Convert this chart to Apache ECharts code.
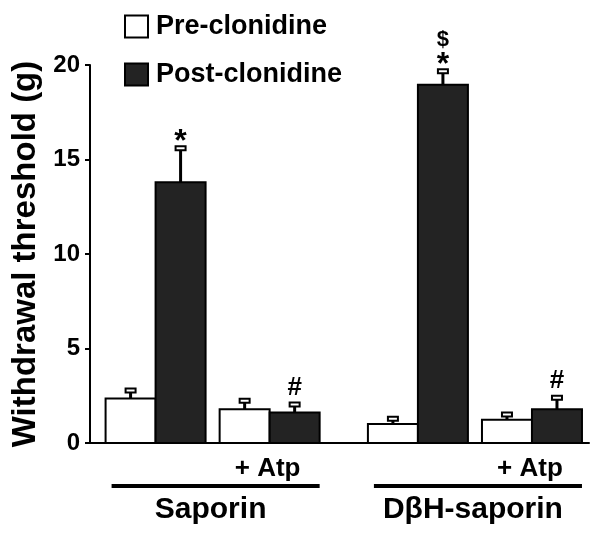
<!DOCTYPE html>
<html>
<head>
<meta charset="utf-8">
<title>Withdrawal threshold</title>
<script src="https://cdn.jsdelivr.net/npm/echarts@6/dist/echarts.min.js"></script>
<style>html,body{margin:0;padding:0;background:#fff}</style>
</head>
<body>
<div id="main" style="width:602px;height:539px"></div>
<script>
// group centres on a hidden value axis (the gap between treatments is wider)
var groupPos = [0, 1, 2.3, 3.3];
var subLabels = ['', '+ Atp', '', '+ Atp'];
var treatments = ['Saporin', 'DβH-saporin'];
var treatmentGroups = [[0, 1], [2, 3]];
var preMean = [2.35, 1.79, 1.01, 1.23];
var preSem = [0.43, 0.44, 0.27, 0.28];
var postMean = [13.8, 1.61, 18.95, 1.79];
var postSem = [1.8, 0.43, 0.72, 0.6];
var postMarks = ['*', '#', '*', '#'];
var postMarks2 = ['', '', '$', ''];
var yTicks = [0, 5, 10, 15, 20];

var FONT = '"Liberation Sans", Arial, sans-serif';
var BAR = 50;
var markStyle = {
    '*': { size: 32, dy: 6 },
    '#': { size: 26, dy: 17 },
    '$': { size: 22, dy: 31 }
};

function rows(mean, sem) {
    return groupPos.map(function (p, i) { return [p, mean[i], sem[i], i]; });
}

function barRenderer(side, fill) {
    return function (params, api) {
        var x = api.value(0), m = api.value(1), e = api.value(2), idx = api.value(3);
        var base = api.coord([x, 0]);
        var top = api.coord([x, m]);
        var cap = api.coord([x, m + e]);
        var left = side < 0 ? base[0] - BAR : base[0];
        var cx = left + BAR / 2;
        var kids = [
            { type: 'line', shape: { x1: cx, y1: top[1], x2: cx, y2: cap[1] },
              style: { stroke: '#000', lineWidth: 3 } },
            { type: 'rect', shape: { x: cx - 5, y: cap[1] - 2, width: 10, height: 4 },
              style: { fill: '#fff', stroke: '#000', lineWidth: 2 } },
            { type: 'rect', shape: { x: left, y: top[1], width: BAR, height: base[1] - top[1] },
              style: { fill: fill, stroke: '#000', lineWidth: 2 } }
        ];
        if (side > 0) {
            [postMarks[idx], postMarks2[idx]].forEach(function (t) {
                if (!t) return;
                var ms = markStyle[t];
                kids.push({ type: 'text', style: {
                    text: t, x: cx, y: cap[1] - ms.dy, align: 'center', verticalAlign: 'middle',
                    font: 'bold ' + ms.size + 'px ' + FONT, fill: '#000' } });
            });
        }
        return { type: 'group', children: kids };
    };
}

var labelRows = groupPos.map(function (p, i) { return [p, 0, i]; });
var treatRows = treatmentGroups.map(function (g, i) { return [groupPos[g[0]], groupPos[g[1]], i]; });

var option = {
    animation: false,
    grid: { left: 90, right: 13, top: 65, bottom: 96 },
    legend: {
        orient: 'vertical', left: 124, top: 13, padding: 0,
        itemWidth: 23, itemHeight: 22, itemGap: 21,
        icon: 'rect',
        textStyle: { fontSize: 27, fontWeight: 'bold', color: '#000', fontFamily: FONT, padding: [0, 0, 0, 3] },
        data: ['Pre-clonidine', 'Post-clonidine']
    },
    xAxis: {
        type: 'value', min: -0.575, max: 3.8,
        axisLine: { show: true, onZero: false, lineStyle: { color: '#000', width: 2 } },
        axisTick: { show: false }, axisLabel: { show: false }, splitLine: { show: false }
    },
    yAxis: {
        type: 'value', min: yTicks[0], max: yTicks[yTicks.length - 1], interval: 5,
        name: 'Withdrawal threshold (g)', nameLocation: 'middle', nameRotate: 90, nameGap: 45,
        nameTextStyle: { fontSize: 33, fontWeight: 'bold', color: '#000', fontFamily: FONT },
        axisLine: { show: true, onZero: false, lineStyle: { color: '#000', width: 2 } },
        axisTick: { show: true, length: 5, lineStyle: { color: '#000', width: 2 } },
        axisLabel: { fontSize: 24, fontWeight: 'bold', color: '#000', fontFamily: FONT, margin: 10 },
        splitLine: { show: false }
    },
    series: [
        {
            name: 'Pre-clonidine', type: 'custom', data: rows(preMean, preSem),
            itemStyle: { color: '#fff', borderColor: '#000', borderWidth: 1.5 },
            renderItem: barRenderer(-1, '#fff')
        },
        {
            name: 'Post-clonidine', type: 'custom', data: rows(postMean, postSem),
            itemStyle: { color: '#232323', borderColor: '#000', borderWidth: 1.5 },
            renderItem: barRenderer(1, '#232323')
        },
        {
            type: 'custom', data: labelRows, silent: true,
            renderItem: function (params, api) {
                var c = api.coord([api.value(0), 0]);
                return { type: 'text', style: {
                    text: subLabels[api.value(2)], x: c[0] - 2, y: c[1] + 26,
                    align: 'center', verticalAlign: 'middle',
                    font: 'bold 26px ' + FONT, fill: '#000' } };
            }
        },
        {
            type: 'custom', data: treatRows, silent: true,
            renderItem: function (params, api) {
                var a = api.coord([api.value(0), 0]);
                var b = api.coord([api.value(1), 0]);
                return { type: 'group', children: [
                    { type: 'line', shape: { x1: a[0] - 44, y1: a[1] + 43, x2: b[0] + 50, y2: a[1] + 43 },
                      style: { stroke: '#000', lineWidth: 4 } },
                    { type: 'text', style: {
                        text: treatments[api.value(2)], x: (a[0] + b[0]) / 2 - 2, y: a[1] + 67,
                        align: 'center', verticalAlign: 'middle',
                        font: 'bold 30px ' + FONT, fill: '#000' } }
                ] };
            }
        }
    ]
};

var chart = echarts.init(document.getElementById('main'));
chart.setOption(option);
</script>
</body>
</html>
